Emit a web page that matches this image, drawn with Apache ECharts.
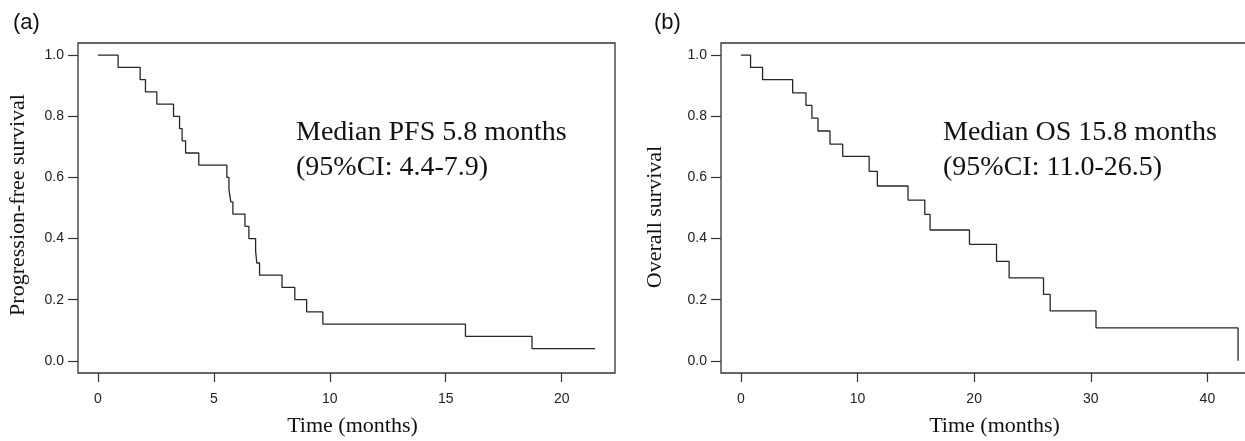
<!DOCTYPE html>
<html>
<head>
<meta charset="utf-8">
<script src="https://cdn.jsdelivr.net/npm/echarts@6/dist/echarts.min.js"></script>
<style>
html,body{margin:0;padding:0;background:#fff;}
#chart{width:1245px;height:441px;}
</style>
</head>
<body>
<div id="chart"></div>
<script>
// ---- Data ----
const pfsTimes = [0, 0.87, 1.82, 2.05, 2.54, 3.26, 3.52, 3.63, 3.78, 4.35, 5.56, 5.65, 5.73, 5.82, 6.34, 6.51, 6.80, 6.85, 6.97, 7.94, 8.49, 9.00, 9.70, 15.85, 18.72, 21.44];
const pfsSurv  = [1.00, 0.96, 0.92, 0.88, 0.84, 0.80, 0.76, 0.72, 0.68, 0.64, 0.60, 0.56, 0.52, 0.48, 0.44, 0.40, 0.36, 0.32, 0.28, 0.24, 0.20, 0.16, 0.12, 0.08, 0.04, 0.04];
const osTimes  = [0, 0.83, 1.86, 4.44, 5.58, 6.09, 6.61, 7.64, 8.73, 11.0, 11.7, 14.33, 15.77, 16.22, 19.6, 21.92, 23.0, 25.95, 26.52, 30.45, 42.63];
const osSurv   = [1.00, 0.96, 0.92, 0.877, 0.836, 0.794, 0.752, 0.709, 0.669, 0.62, 0.572, 0.526, 0.479, 0.428, 0.381, 0.325, 0.271, 0.217, 0.163, 0.108, 0.0];
const xTicksA  = [0, 5, 10, 15, 20];
const xTicksB  = [0, 10, 20, 30, 40];
const yTicks   = [0.0, 0.2, 0.4, 0.6, 0.8, 1.0];
const panelLabels = ['(a)', '(b)'];
const yTitles = ['Progression-free survival', 'Overall survival'];
const xTitle = 'Time (months)';
const noteA = ['Median PFS 5.8 months', '(95%CI: 4.4-7.9)'];
const noteB = ['Median OS 15.8 months', '(95%CI: 11.0-26.5)'];

const SANS = '"Liberation Sans", Arial, sans-serif';
const SERIF = '"Liberation Serif", "Times New Roman", serif';
const LINE = '#333';

function zip(a, b) { return a.map((v, i) => [v, b[i]]); }

function xAxisCfg(grid, min, max, ticks, pad) {
  return {
    type: 'value', gridIndex: grid, min: min, max: max, position: 'bottom',
    name: xTitle, nameLocation: 'middle', nameGap: 42,
    nameTextStyle: { fontFamily: SERIF, fontSize: 22, color: '#111', padding: pad },
    axisLine: { show: false, onZero: false },
    axisTick: { show: true, inside: false, length: 9, customValues: ticks, lineStyle: { color: LINE, width: 1.2 } },
    axisLabel: { show: true, customValues: ticks, margin: 19, fontFamily: SANS, fontSize: 14, color: '#222' },
    splitLine: { show: false }
  };
}
function yAxisCfg(grid, name, gap, pad) {
  return {
    type: 'value', gridIndex: grid, min: -0.04, max: 1.04, position: 'left',
    name: name, nameLocation: 'middle', nameGap: gap, nameRotate: 90,
    nameTextStyle: { fontFamily: SERIF, fontSize: 22, color: '#111', padding: pad },
    axisLine: { show: false, onZero: false },
    axisTick: { show: true, inside: false, length: 10, customValues: yTicks, lineStyle: { color: LINE, width: 1.2 } },
    axisLabel: { show: true, customValues: yTicks, margin: 14, fontFamily: SANS, fontSize: 14, color: '#222',
      formatter: v => v.toFixed(1) },
    splitLine: { show: false }
  };
}

const chart = echarts.init(document.getElementById('chart'), null, { renderer: 'canvas' });
chart.setOption({
  backgroundColor: '#fff',
  animation: false,
  grid: [
    { left: 78, width: 537, top: 43, height: 330, outerBoundsMode: 'none', containLabel: false,
      show: true, borderColor: LINE, borderWidth: 1.3, backgroundColor: 'transparent' },
    { left: 721, width: 537, top: 43, height: 330, outerBoundsMode: 'none', containLabel: false,
      show: true, borderColor: LINE, borderWidth: 1.3, backgroundColor: 'transparent' }
  ],
  xAxis: [ xAxisCfg(0, -0.86, 22.30, xTicksA, [0, 0, 0, 12]), xAxisCfg(1, -1.705, 44.34, xTicksB, [0, 0, 0, 10]) ],
  yAxis: [ yAxisCfg(0, yTitles[0], 49, [0, 0, 0, 6]), yAxisCfg(1, yTitles[1], 55, [0, 18, 0, 0]) ],
  series: [
    { type: 'line', xAxisIndex: 0, yAxisIndex: 0, step: 'end', showSymbol: false, symbol: 'none',
      data: zip(pfsTimes, pfsSurv), lineStyle: { color: '#262626', width: 1.3 } },
    { type: 'line', xAxisIndex: 1, yAxisIndex: 1, step: 'end', showSymbol: false, symbol: 'none',
      data: zip(osTimes, osSurv), lineStyle: { color: '#262626', width: 1.3 } }
  ],
  graphic: [
    { type: 'text', left: 13, top: 12, style: { text: panelLabels[0], font: '22px ' + SANS, fill: '#111' } },
    { type: 'text', left: 654, top: 12, style: { text: panelLabels[1], font: '22px ' + SANS, fill: '#111' } },
    { type: 'text', x: 296, y: 119, style: { text: noteA[0], font: '28px ' + SERIF, fill: '#111', verticalAlign: 'alphabetic' } },
    { type: 'text', x: 296, y: 154, style: { text: noteA[1], font: '28px ' + SERIF, fill: '#111', verticalAlign: 'alphabetic' } },
    { type: 'text', x: 943, y: 119, style: { text: noteB[0], font: '28px ' + SERIF, fill: '#111', verticalAlign: 'alphabetic' } },
    { type: 'text', x: 943, y: 154, style: { text: noteB[1], font: '28px ' + SERIF, fill: '#111', verticalAlign: 'alphabetic' } }
  ]
});
</script>
</body>
</html>
